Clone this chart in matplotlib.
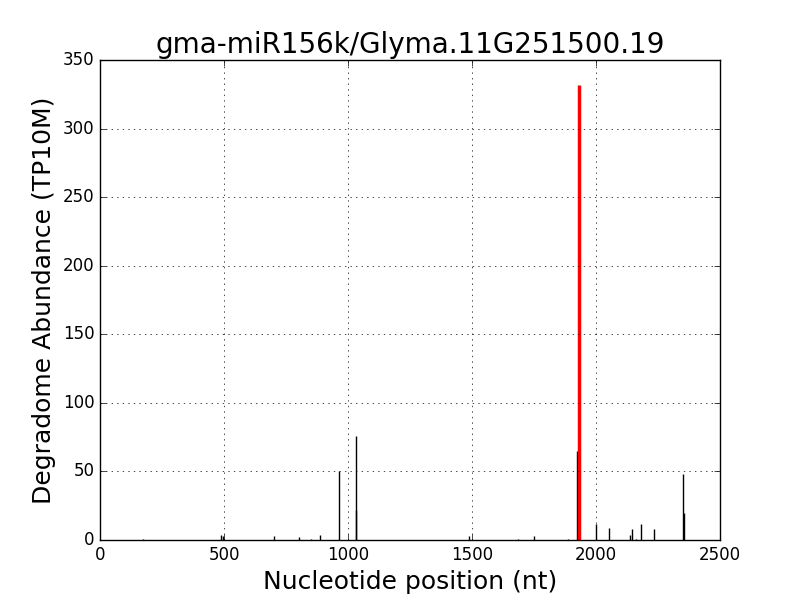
import matplotlib
matplotlib.use('Agg')
import matplotlib.pyplot as plt

plt.style.use('classic')

# degradome tag positions (nt) and abundances (TP10M)
positions = [172, 488, 496, 702, 803, 849, 889, 964, 1032, 1033, 1488, 1687,
             1751, 1888, 1922, 1998, 2054, 2137, 2145, 2163, 2183, 2232,
             2352, 2353]
abundance = [0.6, 4, 3, 3, 2, 1, 3.5, 50, 76, 22, 3, 1,
             3, 0.8, 65, 12, 8.5, 4, 8, 1, 11.4, 7.8,
             48, 20]

# cleavage site
site_pos = [1931]
site_val = [332]

fig = plt.figure(figsize=(8, 6), dpi=100)
ax = fig.add_subplot(111)

ax.vlines(positions, 0, abundance, colors='k', linewidth=1)
ax.vlines(site_pos, 0, site_val, colors='r', linewidth=2.5)

ax.set_xlim(0, 2500)
ax.set_ylim(0, 350)
ax.grid(True)
ax.set_title('gma-miR156k/Glyma.11G251500.19', fontsize=20)
ax.set_xlabel('Nucleotide position (nt)', fontsize=18)
ax.set_ylabel('Degradome Abundance (TP10M)', fontsize=18)

fig.savefig('out.png', dpi=100)
